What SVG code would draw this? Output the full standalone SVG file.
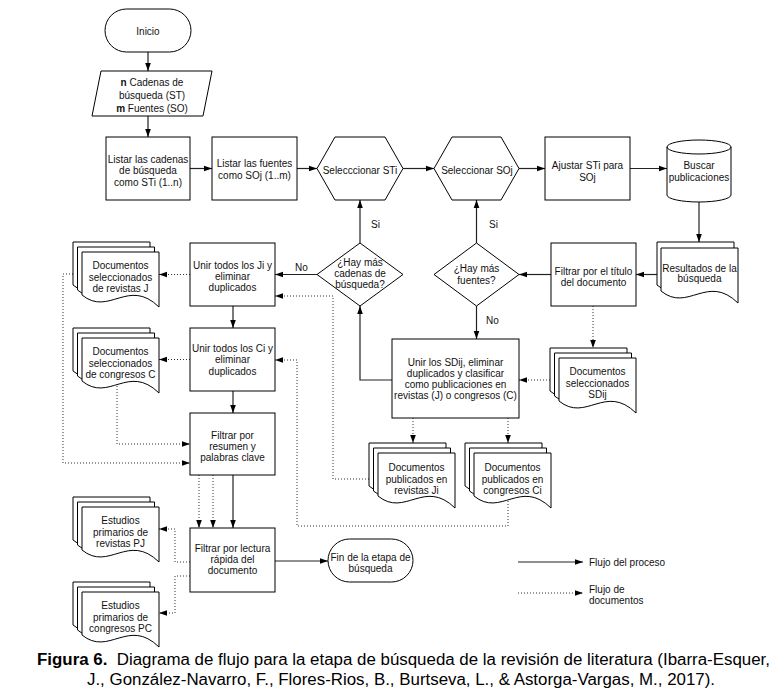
<svg xmlns="http://www.w3.org/2000/svg" xmlns:xlink="http://www.w3.org/1999/xlink" width="772" height="693" viewBox="0 0 772 693">
<style>
.s{fill:#fff;stroke:#000;stroke-width:1}
.c{fill:none;stroke:#222;stroke-width:1.2;marker-end:url(#a)}
.d{fill:none;stroke:#333;stroke-width:1;stroke-dasharray:1 2;marker-end:url(#a)}
.t{font-family:"Liberation Sans",Arial,sans-serif;font-size:10px;fill:#111;text-anchor:middle}
.l{font-family:"Liberation Sans",Arial,sans-serif;font-size:10px;fill:#111}
.cap{font-family:"Liberation Sans Narrow","Arial Narrow","Liberation Sans",Arial,sans-serif;font-size:16px;fill:#000}
</style>
<defs>
<marker id="a" viewBox="0 0 10 10" refX="10" refY="5" markerWidth="8" markerHeight="8" markerUnits="userSpaceOnUse" orient="auto">
<path d="M0,1.5 L10,5 L0,8.5 z" fill="#000"/>
</marker>
<path id="doc" class="s" d="M0,0 H77 V55 C46.2,25 27,65 0,43 Z"/>
<g id="stack3"><use xlink:href="#doc" x="0" y="0"/><use xlink:href="#doc" x="4.5" y="5"/><use xlink:href="#doc" x="9" y="10"/></g>
</defs>
<rect width="772" height="693" fill="#fff"/>

<g id="connectors">
<path class="c" d="M148,52 V71"/>
<path class="c" d="M148,116 V137"/>
<path class="c" d="M190,168.5 H212"/>
<path class="c" d="M297,168.5 H317"/>
<path class="c" d="M403,168.5 H434"/>
<path class="c" d="M519,168.5 H545"/>
<path class="c" d="M630,168.5 H667"/>
<path class="c" d="M699,202 V242"/>
<path class="c" d="M657,274.5 H636"/>
<path class="c" d="M551,274.5 H519"/>
<path class="c" d="M476.5,243 V200"/>
<path class="c" d="M476.5,306 V339"/>
<path class="c" d="M392,380 H360 V306"/>
<path class="c" d="M360,243 V200"/>
<path class="c" d="M317,274.5 H275"/>
<path class="c" d="M233,306 V328"/>
<path class="c" d="M233,391 V413"/>
<path class="c" d="M233,475 V528"/>
<path class="c" d="M275,561 H328"/>
<path class="d" d="M593,306 V348"/>
<path class="d" d="M550,380 H519"/>
<path class="d" d="M413,418 V443"/>
<path class="d" d="M508,418 V443"/>
<path class="d" d="M369,479 H333 V296 H275"/>
<path class="d" d="M508,501 V526 H297 V360 H275"/>
<path class="d" d="M190,274.5 H159"/>
<path class="d" d="M190,359.5 H159"/>
<path class="d" d="M73,274 H63 V463 H190"/>
<path class="d" d="M117,386 V444 H190"/>
<path class="d" d="M199,475 V528"/>
<path class="d" d="M213,475 V528"/>
<path class="d" d="M190,562 H175 V529 H159"/>
<path class="d" d="M190,576 H175 V613 H159"/>
<text class="l" x="371" y="228">Si</text>
<text class="l" x="489" y="228">Si</text>
<text class="l" x="295" y="271">No</text>
<text class="l" x="486" y="324">No</text>
</g>

<g id="inicio">
<rect class="s" x="105" y="9" width="86" height="43" rx="21.5"/>
<text class="t" x="148" y="34.5">Inicio</text>
</g>
<g id="entrada">
<path class="s" d="M101,71 H212 L203,116 H92 Z"/>
<text class="t" x="152" y="86"><tspan font-weight="bold">n</tspan> Cadenas de</text>
<text class="t" x="152" y="99">búsqueda (ST)</text>
<text class="t" x="152" y="112"><tspan font-weight="bold">m</tspan> Fuentes (SO)</text>
</g>
<g id="listar-cadenas">
<rect class="s" x="106" y="137" width="84" height="63"/>
<text class="t" x="148" y="162.5">Listar las cadenas</text>
<text class="t" x="148" y="174">de búsqueda</text>
<text class="t" x="148" y="185.5">como STi (1..n)</text>
</g>
<g id="listar-fuentes">
<rect class="s" x="212" y="137" width="85" height="63"/>
<text class="t" x="254.5" y="166.5">Listar las fuentes</text>
<text class="t" x="254.5" y="178.5">como SOj (1..m)</text>
</g>
<g id="sel-sti">
<path class="s" d="M317,168.5 L335,137 H385 L403,168.5 L385,200 H335 Z"/>
<text class="t" x="360" y="173.5">Selecccionar STi</text>
</g>
<g id="sel-soj">
<path class="s" d="M434,168.5 L452,137 H501 L519,168.5 L501,200 H452 Z"/>
<text class="t" x="477" y="173.5">Seleccionar SOj</text>
</g>
<g id="ajustar">
<rect class="s" x="545" y="137" width="85" height="63"/>
<text class="t" x="587.5" y="168.5">Ajustar STi para</text>
<text class="t" x="587.5" y="180.5">SOj</text>
</g>
<g id="buscar">
<path class="s" d="M667,147 V195 A32,7 0 0 0 731,195 V147 A32,7 0 0 0 667,147 Z"/>
<path fill="none" stroke="#000" d="M667,147 A32,7 0 0 0 731,147"/>
<text class="t" x="699" y="168.5">Buscar</text>
<text class="t" x="699" y="180.5">publicaciones</text>
</g>
<g id="resultados">
<use xlink:href="#doc" x="657" y="242"/>
<use xlink:href="#doc" x="661" y="248"/>
<text class="t" x="699.5" y="271.5">Resultados de la</text>
<text class="t" x="699.5" y="282">búsqueda</text>
</g>
<g id="filtrar-titulo">
<rect class="s" x="551" y="243" width="85" height="63"/>
<text class="t" x="593.5" y="274.5">Filtrar por el título</text>
<text class="t" x="593.5" y="285.5">del documento</text>
</g>
<g id="mas-fuentes">
<path class="s" d="M476.5,243 L519,274.5 L476.5,306 L434,274.5 Z"/>
<text class="t" x="476.5" y="271.5">¿Hay más</text>
<text class="t" x="476.5" y="283.5">fuentes?</text>
</g>
<g id="mas-cadenas">
<path class="s" d="M360,243 L403,274.5 L360,306 L317,274.5 Z"/>
<text class="t" x="360" y="265.5">¿Hay más</text>
<text class="t" x="360" y="276.5">cadenas de</text>
<text class="t" x="360" y="288">búsqueda?</text>
</g>
<g id="sdij">
<use xlink:href="#stack3" x="550" y="348"/>
<text class="t" x="597.5" y="375">Documentos</text>
<text class="t" x="597.5" y="386.5">seleccionados</text>
<text class="t" x="597.5" y="397.5">SDij</text>
</g>
<g id="unir-sdij">
<rect class="s" x="392" y="339" width="127" height="79"/>
<text class="t" x="455.5" y="365.5">Unir los SDij, eliminar</text>
<text class="t" x="455.5" y="376.5">duplicados y clasificar</text>
<text class="t" x="455.5" y="387.5">como publicaciones en</text>
<text class="t" x="455.5" y="398.5">revistas (J) o congresos (C)</text>
</g>
<g id="doc-ji">
<use xlink:href="#stack3" x="369" y="443"/>
<text class="t" x="416.5" y="471">Documentos</text>
<text class="t" x="416.5" y="482.5">publicados en</text>
<text class="t" x="416.5" y="493.5">revistas Ji</text>
</g>
<g id="doc-ci">
<use xlink:href="#stack3" x="465" y="443"/>
<text class="t" x="512.5" y="471">Documentos</text>
<text class="t" x="512.5" y="482.5">publicados en</text>
<text class="t" x="512.5" y="493.5">congresos Ci</text>
</g>
<g id="unir-ji">
<rect class="s" x="190" y="243" width="85" height="63"/>
<text class="t" x="232.5" y="268.5">Unir todos los Ji y</text>
<text class="t" x="232.5" y="279.5">eliminar</text>
<text class="t" x="232.5" y="290.5">duplicados</text>
</g>
<g id="unir-ci">
<rect class="s" x="190" y="328" width="85" height="63"/>
<text class="t" x="232.5" y="351.5">Unir todos los Ci y</text>
<text class="t" x="232.5" y="363">eliminar</text>
<text class="t" x="232.5" y="374.5">duplicados</text>
</g>
<g id="doc-j">
<use xlink:href="#stack3" x="73" y="242"/>
<text class="t" x="120.5" y="269">Documentos</text>
<text class="t" x="120.5" y="280.5">seleccionados</text>
<text class="t" x="120.5" y="291.5">de revistas J</text>
</g>
<g id="doc-c">
<use xlink:href="#stack3" x="73" y="328"/>
<text class="t" x="120.5" y="355">Documentos</text>
<text class="t" x="120.5" y="366.5">seleccionados</text>
<text class="t" x="120.5" y="377.5">de congresos C</text>
</g>
<g id="filtrar-resumen">
<rect class="s" x="190" y="413" width="85" height="62"/>
<text class="t" x="232.5" y="438.5">Filtrar por</text>
<text class="t" x="232.5" y="449.5">resumen y</text>
<text class="t" x="232.5" y="460.5">palabras clave</text>
</g>
<g id="filtrar-lectura">
<rect class="s" x="190" y="528" width="85" height="64"/>
<text class="t" x="232.5" y="551.5">Filtrar por lectura</text>
<text class="t" x="232.5" y="562.5">rápida del</text>
<text class="t" x="232.5" y="574">documento</text>
</g>
<g id="doc-pj">
<use xlink:href="#stack3" x="73" y="497"/>
<text class="t" x="120.5" y="524">Estudios</text>
<text class="t" x="120.5" y="535.5">primarios de</text>
<text class="t" x="120.5" y="546.5">revistas PJ</text>
</g>
<g id="doc-pc">
<use xlink:href="#stack3" x="73" y="582"/>
<text class="t" x="120.5" y="609">Estudios</text>
<text class="t" x="120.5" y="620.5">primarios de</text>
<text class="t" x="120.5" y="631.5">congresos PC</text>
</g>
<g id="fin">
<rect class="s" x="328" y="539" width="85" height="43" rx="21.5"/>
<text class="t" x="370.5" y="560.5">Fin de la etapa de</text>
<text class="t" x="370.5" y="571.5">búsqueda</text>
</g>
<g id="leyenda">
<path class="c" d="M518,562 H583"/>
<text class="l" x="589" y="565.5">Flujo del proceso</text>
<path class="d" d="M518,593 H583"/>
<text class="l" x="589" y="592.5">Flujo de</text>
<text class="l" x="589" y="603.5">documentos</text>
</g>
<g id="caption">
<text class="cap" x="37" y="665" textLength="733" lengthAdjust="spacingAndGlyphs"><tspan font-weight="bold">Figura 6.</tspan>&#160; Diagrama de flujo para la etapa de búsqueda de la revisión de literatura (Ibarra-Esquer,</text>
<text class="cap" x="87" y="685" textLength="628" lengthAdjust="spacingAndGlyphs">J., González-Navarro, F., Flores-Rios, B., Burtseva, L., &amp; Astorga-Vargas, M., 2017).</text>
</g>
</svg>
